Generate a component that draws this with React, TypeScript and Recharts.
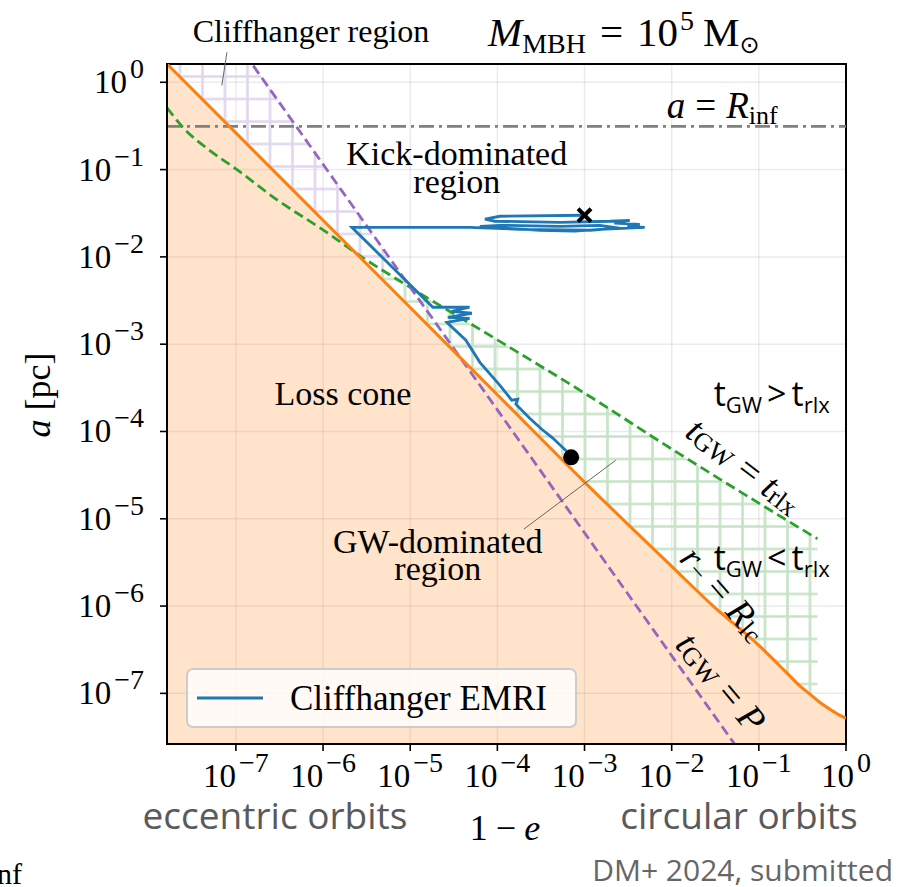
import {
  Area,
  CartesianGrid,
  ComposedChart,
  Legend,
  Line,
  ReferenceArea,
  ReferenceDot,
  ReferenceLine,
  Scatter,
  XAxis,
  YAxis,
} from 'recharts'

const SERIF = "'Liberation Serif', 'DejaVu Serif', serif"
const SANS = "'Open Sans', 'Noto Sans', sans-serif"

const BLUE = '#1f77b4'
const ORANGE = '#ff7f0e'
const GREEN = '#2ca02c'
const PURPLE = '#9467bd'
const GREY = '#808080'

// frame of the plot, in (1 - e) and a [pc]
const X_MIN = 1.62e-8
const X_MAX = 1
const Y_MIN = 2.63e-8
const Y_MAX = 1.62

const tickExps = [-7, -6, -5, -4, -3, -2, -1, 0]

// r_- = R_lc (loss cone edge)
const lcOneMinusE = [1.62e-8, 1e-7, 1e-6, 1e-5, 1e-4, 1e-3, 1e-2, 3e-2, 1e-1, 2e-1, 3e-1, 4e-1, 5e-1, 7e-1, 8.5e-1, 1]
const lcA = [1.62, 0.263, 2.63e-2, 2.63e-3, 2.63e-4, 2.63e-5, 2.85e-6, 1.0e-6, 3.55e-7, 1.8e-7, 1.2e-7, 9.5e-8, 7.9e-8, 6.3e-8, 5.6e-8, 5.2e-8]

// t_GW = P
const periodOneMinusE = [1.58e-7, 1e-6, 1e-5, 1e-4, 1e-3, 1e-2, 5.3e-2]
const periodA = [1.55, 0.115, 4.5e-3, 1.77e-4, 6.9e-6, 2.7e-7, 2.6e-8]

// t_GW = t_rlx
const rlxOneMinusE = [1.62e-8, 2.5e-8, 5e-8, 1e-7, 3e-7, 1e-6, 3e-6, 1e-5, 1e-4, 1e-3, 1e-2, 1e-1, 4.7e-1]
const rlxA = [0.51, 0.3, 0.166, 0.102, 0.0447, 0.0204, 9.5e-3, 4.47e-3, 1.12e-3, 2.75e-4, 6.3e-5, 1.51e-5, 5.9e-6]

// hatched regions: lower and upper edge at each 1 - e
const cliffOneMinusE = [1.62e-8, 1.58e-7, 1e-6, 2.04e-6, 5e-6, 1e-5]
const cliffLow = [1.62, 0.166, 0.0263, 0.0129, 6.9e-3, 4.47e-3]
const cliffHigh = [1.62, 1.62, 0.115, 0.0423, 0.0119, 4.5e-3]

const gwOneMinusE = [2.04e-6, 1e-5, 1e-4, 1e-3, 1e-2, 3e-2, 1e-1, 2e-1, 4.7e-1]
const gwLow = [0.0129, 2.63e-3, 2.63e-4, 2.63e-5, 2.85e-6, 1.0e-6, 3.55e-7, 1.8e-7, 8.5e-8]
const gwHigh = [0.0129, 4.47e-3, 1.12e-3, 2.75e-4, 6.3e-5, 3.16e-5, 1.51e-5, 1.0e-5, 5.9e-6]

// a = R_inf
const rInf = 0.313

// Cliffhanger EMRI track
const emriOneMinusE = [
  1.0e-3, 1.07e-4, 7.2e-5, 9.3e-5, 5.2e-4, 1.95e-3, 3.3e-3, 2.2e-3, 4.3e-3, 3.1e-3, 4.9e-3, 1.5e-3,
  7.7e-4, 3.1e-4, 1.22e-4, 6.3e-5, 1.07e-4, 5.2e-4, 1.5e-3, 2.5e-3, 1.15e-3, 1.8e-4, 4.8e-5, 2.14e-6,
  1.82e-5, 4.8e-5, 3.0e-5, 5.1e-5, 2.7e-5, 4.8e-5, 2.63e-5, 4.35e-5, 6.3e-5, 1.07e-4, 1.46e-4, 1.71e-4,
  1.63e-4, 2.35e-4, 3.23e-4, 4.32e-4, 5.77e-4, 6.41e-4, 7.03e-4,
]
const emriA = [
  0.03, 0.0292, 0.027, 0.0256, 0.0249, 0.0256, 0.0262, 0.0243, 0.0236, 0.0224, 0.0218, 0.0207,
  0.0197, 0.0202, 0.0213, 0.0224, 0.023, 0.0224, 0.023, 0.0213, 0.0202, 0.0207, 0.0218, 0.0218,
  2.65e-3, 2.65e-3, 2.38e-3, 2.26e-3, 2.03e-3, 1.98e-3, 1.78e-3, 1.11e-3, 6.2e-4, 3.38e-4, 2.28e-4, 2.34e-4,
  2.05e-4, 1.42e-4, 1.06e-4, 8.4e-5, 6.4e-5, 5.8e-5, 5.06e-5,
]

const lg = Math.log10
const rows = (xs: number[], ys: number[]) => xs.map((x, i) => ({ x: lg(x), y: lg(ys[i]) }))
const bands = (xs: number[], lo: number[], hi: number[]) =>
  xs.map((x, i) => ({ x: lg(x), range: [lg(lo[i]), lg(hi[i])] }))

const xDomain = [lg(X_MIN), lg(X_MAX)]
const yDomain = [lg(Y_MIN), lg(Y_MAX)]

const lcRows = rows(lcOneMinusE, lcA)
const lcFill = lcOneMinusE.map((x, i) => ({ x: lg(x), range: [yDomain[0], lg(lcA[i])] }))
const periodRows = rows(periodOneMinusE, periodA)
const rlxRows = rows(rlxOneMinusE, rlxA)
const cliffBand = bands(cliffOneMinusE, cliffLow, cliffHigh)
const gwBand = bands(gwOneMinusE, gwLow, gwHigh)
const emriRows = rows(emriOneMinusE, emriA)
const emriStart = [{ x: lg(emriOneMinusE[0]), y: lg(emriA[0]) }]
const emriEnd = [{ x: lg(emriOneMinusE[emriOneMinusE.length - 1]), y: lg(emriA[emriA.length - 1]) }]

const expLabel = (e: number) => (e === 0 ? '0' : `\u2212${-e}`)

function XTick({ x, y, payload }: any) {
  return (
    <text x={x} y={y + 34} textAnchor="middle" fontFamily={SERIF} fontSize={33} fill="#000">
      10
      <tspan fontSize={28} dy={-15} dx={3}>{expLabel(payload.value)}</tspan>
    </text>
  )
}

function YTick({ x, y, payload }: any) {
  return (
    <text x={x - 14} y={y + 11} textAnchor="end" fontFamily={SERIF} fontSize={33} fill="#000">
      10
      <tspan fontSize={28} dy={-15} dx={3}>{expLabel(payload.value)}</tspan>
    </text>
  )
}

const Cross = ({ cx, cy }: any) => (
  <g stroke="#000" strokeWidth={4}>
    <line x1={cx - 6.5} y1={cy - 6.5} x2={cx + 6.5} y2={cy + 6.5} />
    <line x1={cx - 6.5} y1={cy + 6.5} x2={cx + 6.5} y2={cy - 6.5} />
  </g>
)
const Dot = ({ cx, cy }: any) => <circle cx={cx} cy={cy} r={8} fill="#000" />

// text anchored at a data position
const note = (key: string, x: number, y: number, draw: (cx: number, cy: number) => any) => (
  <ReferenceDot
    key={key}
    x={lg(x)}
    y={lg(y)}
    r={0}
    ifOverflow="visible"
    shape={(p: any) => draw(p.cx, p.cy)}
  />
)

const serifText = { fontFamily: SERIF, fontSize: 34, fill: '#000' }

function LegendBox({ payload }: any) {
  let items = (payload ?? []).filter((p: any) => p.value === 'Cliffhanger EMRI')
  if (!items.length) items = [{ value: 'Cliffhanger EMRI', color: BLUE }]
  return (
    <div
      style={{
        boxSizing: 'border-box',
        width: 391,
        height: 60,
        border: '2px solid #cccccc',
        borderRadius: 7,
        background: 'rgba(255,255,255,0.8)',
        display: 'flex',
        alignItems: 'center',
      }}
    >
      {items.map((p: any) => (
        <div key={p.value} style={{ display: 'flex', alignItems: 'center' }}>
          <svg width={66} height={6} style={{ marginLeft: 9 }}>
            <line x1={0} y1={3} x2={66} y2={3} stroke={p.color} strokeWidth={2.8} />
          </svg>
          <span style={{ marginLeft: 27, fontFamily: SERIF, fontSize: 35, color: '#000', lineHeight: 1 }}>
            {p.value}
          </span>
        </div>
      ))}
    </div>
  )
}

export default function App() {
  return (
    <div style={{ position: 'absolute', left: 0, top: 0, width: 900, height: 887, background: '#fff' }}>
      <ComposedChart width={900} height={887} margin={{ top: 64, right: 54, bottom: 93, left: 87 }}>
        <defs>
          <pattern id="hatchGreen" patternUnits="userSpaceOnUse" width={22.5} height={22.5} x={-11.25} y={-2.25}>
            <path d="M11.25 0V22.5M0 11.25H22.5" stroke="#c6e3c6" strokeWidth={2.6} />
          </pattern>
          <pattern id="hatchPurple" patternUnits="userSpaceOnUse" width={22.5} height={22.5} x={-11.25} y={-2.25}>
            <path d="M11.25 0V22.5M0 11.25H22.5" stroke="#e1d6ee" strokeWidth={2.6} />
          </pattern>
        </defs>
        <CartesianGrid stroke="#000" strokeOpacity={0.08} strokeWidth={1.5} />
        <XAxis
          type="number"
          dataKey="x"
          domain={xDomain}
          ticks={tickExps}
          interval={0}
          allowDataOverflow
          height={50}
          tickSize={7}
          tickLine={{ stroke: '#000', strokeWidth: 1.6 }}
          axisLine={{ stroke: '#000', strokeWidth: 2 }}
          tick={<XTick />}
        />
        <YAxis
          type="number"
          domain={yDomain}
          ticks={tickExps}
          interval={0}
          allowDataOverflow
          width={80}
          tickSize={7}
          tickLine={{ stroke: '#000', strokeWidth: 1.6 }}
          axisLine={{ stroke: '#000', strokeWidth: 2 }}
          tick={<YTick />}
        />

        <Area data={lcFill} dataKey="range" type="monotone" fill={ORANGE} fillOpacity={0.22} stroke="none" legendType="none" isAnimationActive={false} />
        <Area data={cliffBand} dataKey="range" type="linear" fill="url(#hatchPurple)" fillOpacity={1} stroke="none" legendType="none" isAnimationActive={false} />
        <Area data={gwBand} dataKey="range" type="monotone" fill="url(#hatchGreen)" fillOpacity={1} stroke="none" legendType="none" isAnimationActive={false} />

        <ReferenceLine y={lg(rInf)} stroke={GREY} strokeWidth={2.6} strokeDasharray="15 5 3 5" />

        <Line data={rlxRows} dataKey="y" type="monotone" stroke={GREEN} strokeWidth={2.8} strokeDasharray="10 5" dot={false} legendType="none" isAnimationActive={false} />
        <Line data={periodRows} dataKey="y" type="linear" stroke={PURPLE} strokeWidth={2.8} strokeDasharray="10 5" dot={false} legendType="none" isAnimationActive={false} />
        <Line data={lcRows} dataKey="y" type="monotone" stroke={ORANGE} strokeWidth={3} dot={false} legendType="none" isAnimationActive={false} />
        <Line data={emriRows} dataKey="y" name="Cliffhanger EMRI" type="linear" stroke={BLUE} strokeWidth={2.8} dot={false} isAnimationActive={false} />
        <Scatter data={emriStart} dataKey="y" shape={<Cross />} legendType="none" isAnimationActive={false} />
        <Scatter data={emriEnd} dataKey="y" shape={<Dot />} legendType="none" isAnimationActive={false} />

        <ReferenceLine
          segment={[{ x: lg(7.9e-8), y: lg(2.21) }, { x: lg(6.9e-8), y: lg(0.92) }]}
          stroke="#666"
          strokeWidth={1}
          ifOverflow="visible"
        />
        <ReferenceLine
          segment={[{ x: lg(2.01e-4), y: lg(7.6e-6) }, { x: lg(2.28e-3), y: lg(4.68e-5) }]}
          stroke="#666"
          strokeWidth={1}
          ifOverflow="visible"
        />

        {note('kick1', 3.42e-5, 0.112, (cx, cy) => (
          <text x={cx} y={cy} textAnchor="middle" {...serifText}>Kick-dominated</text>
        ))}
        {note('kick2', 3.42e-5, 0.0535, (cx, cy) => (
          <text x={cx} y={cy} textAnchor="middle" {...serifText}>region</text>
        ))}
        {note('loss', 1.69e-6, 2.0e-4, (cx, cy) => (
          <text x={cx} y={cy} textAnchor="middle" {...serifText}>Loss cone</text>
        ))}
        {note('gw1', 2.07e-5, 4.03e-6, (cx, cy) => (
          <text x={cx} y={cy} textAnchor="middle" {...serifText}>GW-dominated</text>
        ))}
        {note('gw2', 2.07e-5, 1.98e-6, (cx, cy) => (
          <text x={cx} y={cy} textAnchor="middle" {...serifText}>region</text>
        ))}
        {note('rinf', 8.8e-3, 0.387, (cx, cy) => (
          <text x={cx} y={cy} {...serifText} fontSize={37}>
            <tspan fontStyle="italic">a</tspan>
            <tspan dx={10}>=</tspan>
            <tspan dx={10} fontStyle="italic">R</tspan>
            <tspan fontSize={26} dy={6}>inf</tspan>
          </text>
        ))}
        {note('slow', 0.0303, 1.94e-4, (cx, cy) => (
          <text x={cx} y={cy} fontFamily={SANS} fontSize={34} fill="#000">
            t<tspan fontSize={22} dy={7}>GW</tspan>
            <tspan dy={-7} dx={5}>{'>'}</tspan>
            <tspan dx={5}>t</tspan>
            <tspan fontSize={22} dy={7}>rlx</tspan>
          </text>
        ))}
        {note('fast', 0.0303, 2.57e-6, (cx, cy) => (
          <text x={cx} y={cy} fontFamily={SANS} fontSize={34} fill="#000">
            t<tspan fontSize={22} dy={7}>GW</tspan>
            <tspan dy={-7} dx={5}>{'<'}</tspan>
            <tspan dx={5}>t</tspan>
            <tspan fontSize={22} dy={7}>rlx</tspan>
          </text>
        ))}
        {note('rlxLabel', 0.0687, 4.1e-5, (cx, cy) => (
          <text x={cx} y={cy} textAnchor="middle" dominantBaseline="central" transform={`rotate(37 ${cx} ${cy})`} {...serifText} fontSize={37}>
            <tspan fontStyle="italic">t</tspan>
            <tspan fontSize={26} dy={6}>GW</tspan>
            <tspan dy={-6} dx={10}>=</tspan>
            <tspan dx={10} fontStyle="italic">t</tspan>
            <tspan fontSize={26} dy={6}>rlx</tspan>
          </text>
        ))}
        {note('lcLabel', 0.0405, 1.4e-6, (cx, cy) => (
          <text x={cx} y={cy} textAnchor="middle" dominantBaseline="central" transform={`rotate(49 ${cx} ${cy})`} {...serifText} fontSize={37}>
            <tspan fontStyle="italic">r</tspan>
            <tspan fontSize={26} dy={6}>{'\u2212'}</tspan>
            <tspan dy={-6} dx={10}>=</tspan>
            <tspan dx={10} fontStyle="italic">R</tspan>
            <tspan fontSize={26} dy={6}>lc</tspan>
          </text>
        ))}
        {note('pLabel', 0.0375, 1.35e-7, (cx, cy) => (
          <text x={cx} y={cy} textAnchor="middle" dominantBaseline="central" transform={`rotate(50 ${cx} ${cy})`} {...serifText} fontSize={37}>
            <tspan fontStyle="italic">t</tspan>
            <tspan fontSize={26} dy={6}>GW</tspan>
            <tspan dy={-6} dx={10}>=</tspan>
            <tspan dx={10} fontStyle="italic">P</tspan>
          </text>
        ))}

        <ReferenceArea
          x1={xDomain[0]}
          x2={xDomain[1]}
          y1={yDomain[0]}
          y2={yDomain[1]}
          fill="none"
          stroke="#000"
          strokeWidth={2}
          ifOverflow="visible"
        />

        <Legend
          verticalAlign="middle"
          align="center"
          layout="horizontal"
          wrapperStyle={{ left: 186, top: 668, width: 391, height: 60 }}
          content={<LegendBox />}
        />
      </ComposedChart>

      <svg width={900} height={887} style={{ position: 'absolute', left: 0, top: 0, pointerEvents: 'none' }}>
        <text x={311} y={42} textAnchor="middle" fontFamily={SERIF} fontSize={32} fill="#000">
          Cliffhanger region
        </text>
        <text y={46} fontFamily={SERIF} fontSize={41} fill="#000">
          <tspan x={488} fontStyle="italic">M</tspan>
          <tspan fontSize={28} dy={7}>MBH</tspan>
          <tspan dy={-7} dx={14}>=</tspan>
          <tspan dx={14}>10</tspan>
          <tspan fontSize={28} dy={-16} dx={2}>5</tspan>
          <tspan dy={16} dx={9}>M</tspan>
          <tspan fontSize={24} dy={7} fontFamily="'DejaVu Sans', sans-serif">{'\u2299'}</tspan>
        </text>
        <text x={505} y={840} textAnchor="middle" fontFamily={SERIF} fontSize={36} fill="#000">
          1<tspan dx={8}>{'\u2212'}</tspan>
          <tspan dx={8} fontStyle="italic">e</tspan>
        </text>
        <text x={50} y={395} textAnchor="middle" transform="rotate(-90 50 395)" fontFamily={SERIF} fontSize={36} fill="#000">
          <tspan fontStyle="italic">a</tspan> [pc]
        </text>
        <text x={275} y={829} textAnchor="middle" fontFamily={SANS} fontSize={37} fill="#5a5a5a">
          eccentric orbits
        </text>
        <text x={739} y={829} textAnchor="middle" fontFamily={SANS} fontSize={37} fill="#5a5a5a">
          circular orbits
        </text>
        <text x={893} y={881} textAnchor="end" fontFamily={SANS} fontSize={30} fill="#666">
          DM+ 2024, submitted
        </text>
        <text x={-3} y={884} fontFamily={SERIF} fontSize={30} fill="#000">
          nf
        </text>
      </svg>
    </div>
  )
}
